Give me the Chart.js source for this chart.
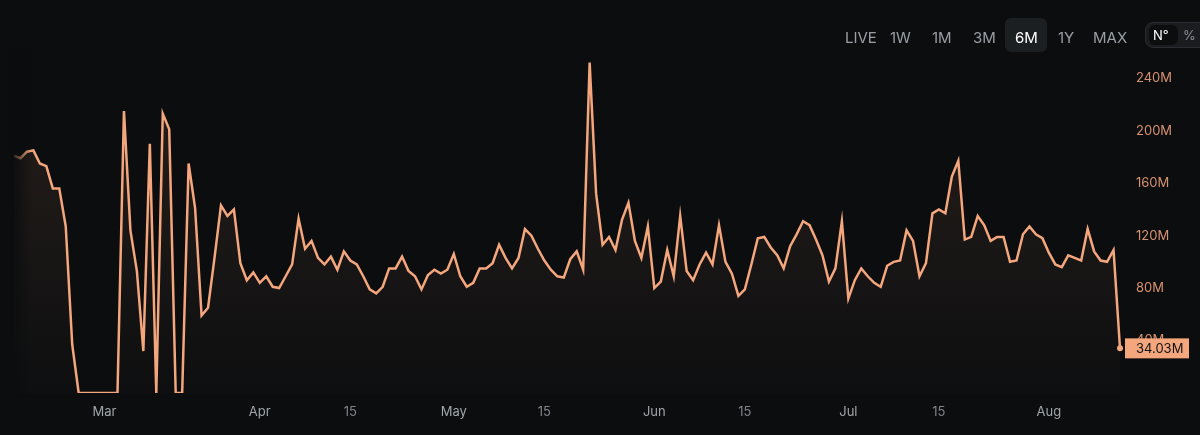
<!DOCTYPE html>
<html>
<head>
<meta charset="utf-8">
<script src="https://cdn.jsdelivr.net/npm/chart.js@4.4.1/dist/chart.umd.min.js"></script>
<style>
    html, body { margin: 0; padding: 0; background: #0b0d0f; }
    #wrap { position: relative; width: 1200px; height: 435px; overflow: hidden; font-family: Inter, "Noto Sans", sans-serif; }
    #wrap canvas { position: absolute; left: 0; top: 0; }
    .btn { position: absolute; top: 28px; font-size: 15px; line-height: 20px; color: #9a9fa5; }
    .btn.on { color: #ffffff; }
    #sel { position: absolute; left: 1005px; top: 18px; width: 42px; height: 34px; border-radius: 6px; background: #1c1f22; }
    #toggle { position: absolute; left: 1145px; top: 22px; width: 70px; height: 26px; border-radius: 8px; background: #1a1c1f; border: 1px solid #2a2d31; box-sizing: border-box; }
    #toggleOn { position: absolute; left: 1149px; top: 25px; width: 29px; height: 20px; border-radius: 6px; background: #0c0d0f; }
    .tg { position: absolute; top: 26px; font-size: 13px; line-height: 18px; }
</style>
</head>
<body>
<div id="wrap">
    <canvas id="volumeChart" width="1200" height="435"></canvas>
    <div id="sel"></div>
    <span class="btn" style="left:845px">LIVE</span>
    <span class="btn" style="left:890px">1W</span>
    <span class="btn" style="left:932px">1M</span>
    <span class="btn" style="left:973px">3M</span>
    <span class="btn on" style="left:1015px">6M</span>
    <span class="btn" style="left:1058px">1Y</span>
    <span class="btn" style="left:1093px">MAX</span>
    <div id="toggle"></div>
    <div id="toggleOn"></div>
    <span class="tg" style="left:1153px;color:#fff">N°</span>
    <span class="tg" style="left:1183px;color:#8d9297">%</span>
</div>
<script>
// Daily volume, millions
const volume = [
    181, 179, 184, 185, 175, 173, 156, 156, 127, 37,
    0, 0, 0, 0, 0, 0, 0, 215, 124, 93,
    32, 190, 0, 213, 201, 0, 0, 175, 141, 59,
    65, 103, 143, 135, 140, 99, 86, 92, 84, 89,
    81, 80, 89, 98, 133, 110, 116, 103, 98, 104,
    94, 108, 101, 98, 89, 79, 76, 81, 95, 95,
    104, 93, 89, 79, 90, 94, 91, 94, 106, 89,
    81, 84, 95, 95, 99, 113, 103, 95, 103, 125,
    120, 110, 101, 94, 89, 88, 102, 108, 94, 252,
    152, 113, 119, 109, 132, 145, 116, 103, 127, 80,
    85, 109, 89, 135, 93, 86, 98, 107, 98, 128,
    100, 91, 74, 79, 98, 118, 119, 111, 105, 95,
    112, 121, 131, 128, 117, 105, 85, 95, 131, 72,
    86, 95, 89, 84, 81, 97, 100, 101, 124, 116,
    89, 99, 137, 140, 137, 165, 177, 117, 119, 135,
    128, 116, 119, 119, 100, 101, 121, 127, 121, 118,
    107, 98, 96, 105, 103, 101, 125, 108, 101, 100,
    109, 34.03
];

// x-axis tick positions (point index) and their text
const tickIndex = [14, 38, 52, 68, 82, 99, 113, 129, 143, 160];
const tickText = ['Mar', 'Apr', '15', 'May', '15', 'Jun', '15', 'Jul', '15', 'Aug'];

// y-axis range (millions)
const yMin = 0;
const yMax = 260;
const yStep = 40;

const labels = volume.map(function(_, i) {
    const k = tickIndex.indexOf(i);
    return k >= 0 ? tickText[k] : '';
});

const lineColor = '#f4a67c';

// Fade at the left edge + last value tag
const overlayPlugin = {
    id: 'overlay',
    afterDatasetsDraw(chart) {
        const { ctx, chartArea } = chart;
        const g = ctx.createLinearGradient(chartArea.left - 4, 0, chartArea.left + 18, 0);
        g.addColorStop(0, 'rgba(11,13,15,1)');
        g.addColorStop(1, 'rgba(11,13,15,0)');
        ctx.save();
        ctx.fillStyle = g;
        ctx.fillRect(0, chartArea.top - 5, chartArea.left + 18, chartArea.bottom - chartArea.top + 10);
        ctx.restore();
    },
    afterDraw(chart) {
        const { ctx } = chart;
        const last = volume.length - 1;
        const x = chart.scales.x.getPixelForValue(last);
        const y = chart.scales.y.getPixelForValue(volume[last]);
        ctx.save();
        ctx.fillStyle = lineColor;
        ctx.fillRect(x + 5, y - 10, 64, 20);
        ctx.fillStyle = '#111214';
        ctx.font = '13px Inter';
        ctx.textBaseline = 'middle';
        ctx.fillText(volume[last].toFixed(2) + 'M', x + 16, y + 1);
        ctx.restore();
    }
};

const volumeCtx = document.getElementById('volumeChart').getContext('2d');
const volumeChart = new Chart(volumeCtx, {
    type: 'line',
    data: {
        labels: labels,
        datasets: [{
            data: volume,
            borderColor: lineColor,
            borderWidth: 2.5,
            borderJoinStyle: 'miter',
            tension: 0,
            fill: true,
            backgroundColor: function(c) {
                const { ctx, chartArea } = c.chart;
                if (!chartArea) return 'rgba(0,0,0,0)';
                const g = ctx.createLinearGradient(0, chartArea.top, 0, chartArea.bottom);
                g.addColorStop(0, 'rgba(245,166,125,0.12)');
                g.addColorStop(1, 'rgba(245,166,125,0.015)');
                return g;
            },
            pointRadius: function(c) { return c.dataIndex === volume.length - 1 ? 3 : 0; },
            pointBackgroundColor: lineColor,
            pointBorderWidth: 0
        }]
    },
    options: {
        responsive: false,
        animation: false,
        layout: {
            padding: { top: 52, bottom: 0, left: 14, right: 0 }
        },
        plugins: {
            legend: { display: false },
            tooltip: { enabled: false }
        },
        scales: {
            x: {
                grid: { display: false, drawTicks: false },
                border: { display: false },
                afterFit: function(s) { s.height = 42; },
                ticks: {
                    autoSkip: false,
                    maxRotation: 0,
                    minRotation: 0,
                    padding: 11,
                    font: { family: 'Inter', size: 13 },
                    color: function(c) {
                        return /^\d+$/.test(c.tick.label) ? '#7f8489' : '#a0a5aa';
                    }
                }
            },
            y: {
                position: 'right',
                min: yMin,
                max: yMax,
                grid: { display: false, drawTicks: false },
                border: { display: false },
                afterFit: function(s) { s.width = 80; },
                ticks: {
                    stepSize: yStep,
                    padding: 16,
                    font: { family: 'Inter', size: 13 },
                    color: 'rgba(236,160,122,0.9)',
                    callback: function(v) {
                        return (v > 0 && v % yStep === 0) ? v + 'M' : '';
                    }
                }
            }
        }
    },
    plugins: [overlayPlugin]
});
</script>
</body>
</html>
